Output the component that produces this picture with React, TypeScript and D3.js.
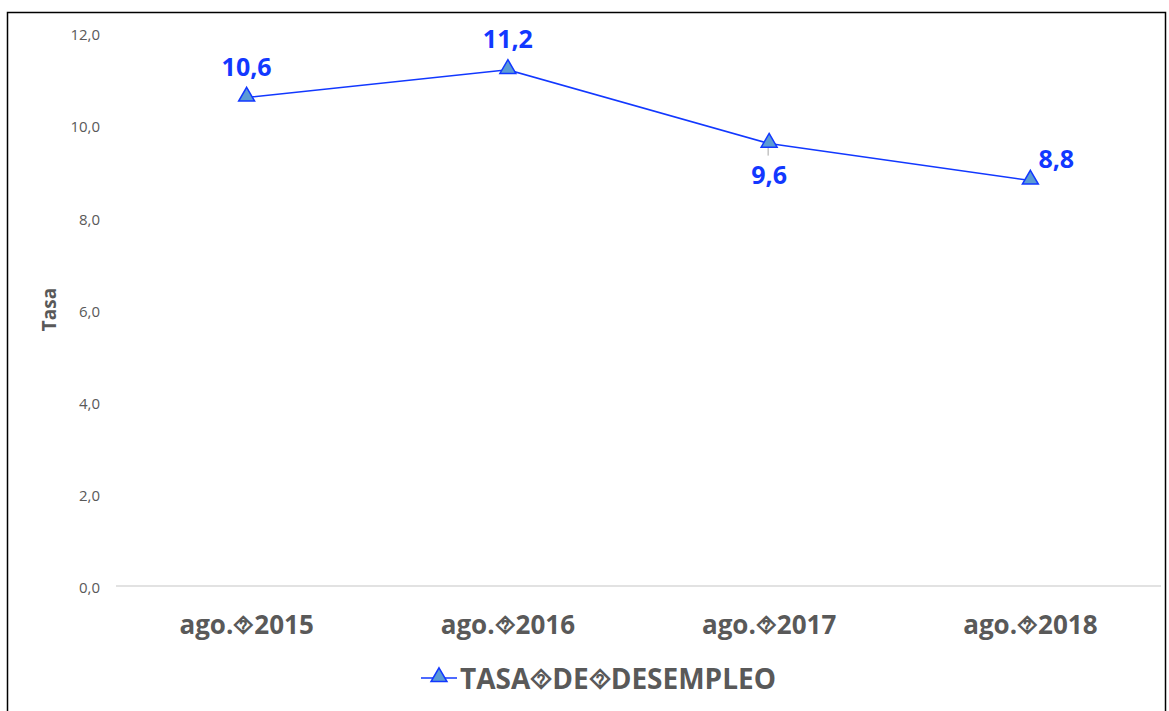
import React from "react";
import * as d3 from "d3";

const SEP = "\u2BD1";
const categories = [`ago.${SEP}2015`, `ago.${SEP}2016`, `ago.${SEP}2017`, `ago.${SEP}2018`];
const values = [10.6, 11.2, 9.6, 8.8];
const yTicks = [0, 2, 4, 6, 8, 10, 12];
const seriesName = `TASA${SEP}DE${SEP}DESEMPLEO`;
const labelPos = ["above", "above", "below", "aboveRight"];

const W = 1169, H = 711;
const FONT = "'Open Sans', 'Noto Sans', sans-serif";
const BLUE = "#1238FF";
const GREY = "#595959";

export default function App() {
  const x = d3.scaleBand<string>().domain(categories).range([116, 1161]);
  const y = d3.scaleLinear().domain([0, 12]).range([586, 33]);
  const fmt = (v: number) => v.toFixed(1).replace(".", ",");
  const line = d3.line<number>()
    .x((_, i) => (x(categories[i]) as number) + x.bandwidth() / 2)
    .y((d) => y(d));
  const tri = d3.symbol().type(d3.symbolTriangle).size(110);

  return (
    <svg width={W} height={H} style={{ position: "absolute", left: 0, top: 0, background: "#fff" }}>
      <rect x={7.5} y={12.5} width={1158} height={720} fill="#fff" stroke="#000" strokeWidth={1.5} />
      <line x1={116} x2={1161} y1={y(0)} y2={y(0)} stroke="#d9d9d9" strokeWidth={1.5} />
      {yTicks.map((t) => (
        <text key={t} x={100} y={y(t) + 2} dy="0.35em" textAnchor="end" fontFamily={FONT} fontSize={15} fill={GREY}>
          {fmt(t)}
        </text>
      ))}
      <text transform={`translate(56,${y(6)}) rotate(-90)`} textAnchor="middle" fontFamily={FONT} fontSize={19} fontWeight="bold" fill={GREY}>
        Tasa
      </text>
      {categories.map((c) => (
        <text key={c} x={(x(c) as number) + x.bandwidth() / 2} y={634} textAnchor="middle" fontFamily={FONT} fontSize={26} fontWeight="bold" fill={GREY}>
          {c}
        </text>
      ))}
      <path d={line(values) || ""} fill="none" stroke={BLUE} strokeWidth={1.5} />
      {values.map((v, i) => {
        const cx = (x(categories[i]) as number) + x.bandwidth() / 2;
        const cy = y(v);
        return (
          <g key={i}>
            {labelPos[i] === "below" && (
              <line x1={cx - 1} x2={cx - 1} y1={cy} y2={cy + 12} stroke="#a6a6a6" strokeWidth={1} />
            )}
            <path d={tri() || ""} transform={`translate(${cx},${cy - 1})`} fill="#5B9BD5" stroke={BLUE} strokeWidth={1.5} />
          </g>
        );
      })}
      {values.map((v, i) => {
        const cx = (x(categories[i]) as number) + x.bandwidth() / 2;
        const cy = y(v);
        let tx = cx, ty = cy - 22, anchor: "middle" | "start" = "middle";
        if (labelPos[i] === "below") ty = cy + 40;
        if (labelPos[i] === "aboveRight") { tx = cx + 8; ty = cy - 12; anchor = "start"; }
        return (
          <text key={i} x={tx} y={ty} textAnchor={anchor} fontFamily={FONT} fontSize={25} fontWeight="bold" fill={BLUE}>
            {fmt(v)}
          </text>
        );
      })}
      <g>
        <line x1={421} x2={457} y1={678} y2={678} stroke={BLUE} strokeWidth={1.5} />
        <path d={tri() || ""} transform={`translate(439,677)`} fill="#5B9BD5" stroke={BLUE} strokeWidth={1.5} />
        <text x={460} y={689} fontFamily={FONT} fontSize={28} fontWeight="bold" fill={GREY}>
          {seriesName}
        </text>
      </g>
    </svg>
  );
}
